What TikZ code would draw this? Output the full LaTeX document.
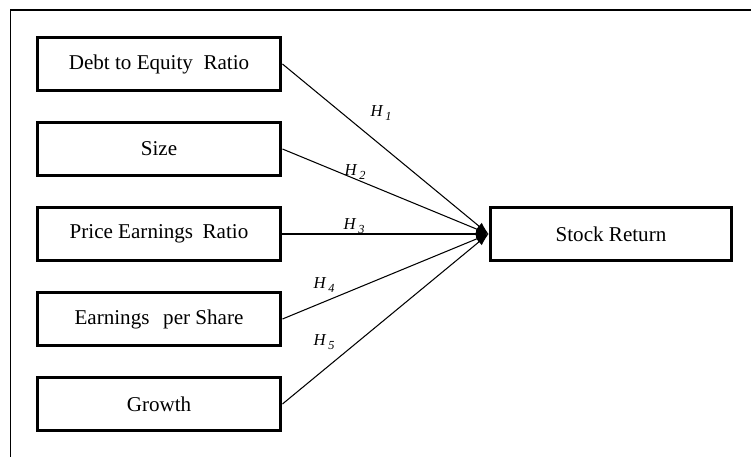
\documentclass[tikz,border=0pt]{standalone}
\usepackage{fontspec}
\setmainfont{Liberation Serif}
\usetikzlibrary{arrows.meta, positioning}

\tikzset{
  varbox/.style={draw, line width=1.7pt, minimum width=4.88cm, minimum height=1.06cm,
    inner sep=0pt, font=\fontsize{12}{14}\selectfont},
  hyplabel/.style={inner sep=0pt, font=\fontsize{9.5}{11}\selectfont\itshape},
  link/.style={line width=0.6pt, -{Latex[length=7pt, width=5pt]}}
}
\newcommand{\hyp}[1]{H\,\raisebox{-0.5ex}{\scriptsize #1}}

\begin{document}
\begin{tikzpicture}[x=0.02cm, y=-0.02cm]
\useasboundingbox (0,0) rectangle (751,457);
% frame
\draw[line width=1.1pt] (10,10) -- (751,10);
\draw[line width=0.6pt] (10.5,10) -- (10.5,457);

% independent variables
\node[varbox] (der) at (159,64) {Debt to Equity\hspace{0.25em} Ratio};
\node[varbox] (size) at (159,149) {Size};
\node[varbox] (per) at (159,234) {Price Earnings\hspace{0.2em} Ratio};
\node[varbox] (eps) at (159,319) {Earnings\hspace{0.4em} per Share};
\node[varbox] (growth) at (159,404) {Growth};

% dependent variable
\node[varbox, minimum width=4.84cm] (ret) at (611,234) {Stock Return};

% hypotheses
\foreach \src in {der,size,per,eps,growth} {
  \draw[link] (\src.east) -- (ret.west);
}
\node[hyplabel] (h1) at (381,113) {\hyp{1}};
\node[hyplabel] (h2) at (355,172) {\hyp{2}};
\node[hyplabel] (h3) at (354,226) {\hyp{3}};
\node[hyplabel] (h4) at (324,285) {\hyp{4}};
\node[hyplabel] (h5) at (324,342) {\hyp{5}};
\end{tikzpicture}
\end{document}
